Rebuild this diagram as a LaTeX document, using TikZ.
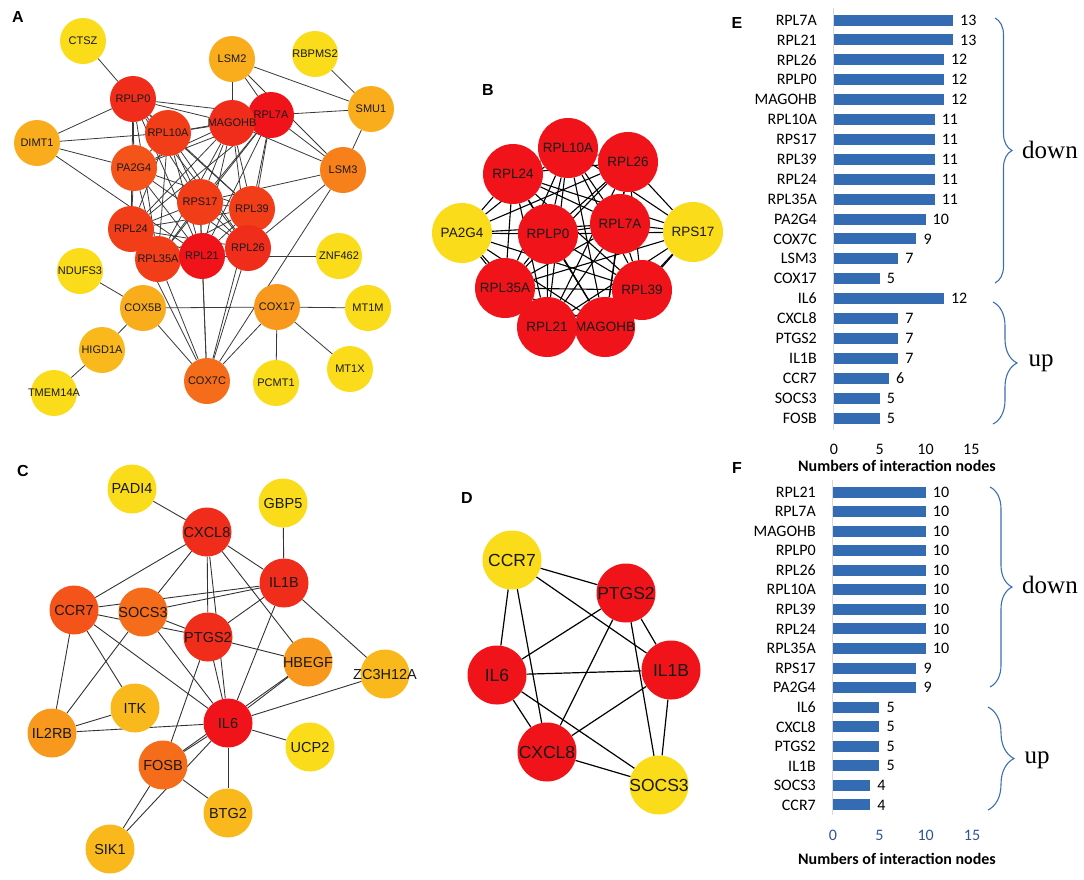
\documentclass[tikz,border=0pt]{standalone}
\usepackage{fontspec}
\setmainfont{Liberation Sans}
\newfontfamily\calfont{Carlito}
\newfontfamily\serfont{Liberation Serif}
\usetikzlibrary{decorations.pathreplacing}
\pgfdeclarelayer{edges}
\pgfsetlayers{edges,main}

\definecolor{rA}{HTML}{F0141A}
\definecolor{rB}{HTML}{F02C1A}
\definecolor{rC}{HTML}{F23E18}
\definecolor{oA}{HTML}{F4541A}
\definecolor{oB}{HTML}{F56C1A}
\definecolor{oC}{HTML}{F7801A}
\definecolor{oD}{HTML}{F8981C}
\definecolor{oE}{HTML}{F9AD1C}
\definecolor{oF}{HTML}{F9B91C}
\definecolor{yA}{HTML}{FADC1A}
\definecolor{barblue}{HTML}{336CB3}
\definecolor{braceblue}{HTML}{3C6EB4}
\definecolor{tickblue}{HTML}{2F5597}

\newcommand{\ribo}{PA2G4,RPS17,RPLP0,RPL10A,MAGOHB,RPL7A,RPL39,RPL24,RPL35A,RPL21,RPL26}
\newcommand{\coreedges}{CCR7/PTGS2,CCR7/IL1B,CCR7/IL6,CCR7/CXCL8,PTGS2/IL6,PTGS2/CXCL8,PTGS2/IL1B,PTGS2/SOCS3,IL6/IL1B,IL6/CXCL8,IL6/SOCS3,IL1B/CXCL8,IL1B/SOCS3,CXCL8/SOCS3}
\newcommand{\ctext}[1]{\makebox[0pt]{#1}}

\tikzset{
  gene/.style={circle,inner sep=0pt,text=black!90},
  anode/.style={gene,minimum size=46pt,font=\fontsize{11}{13}\selectfont},
  bnode/.style={gene,minimum size=60pt,font=\fontsize{13.5}{15}\selectfont},
  cnode/.style={gene,minimum size=49pt,font=\fontsize{14.5}{16}\selectfont},
  dnode/.style={gene,minimum size=59pt,font=\fontsize{17.5}{19}\selectfont},
  aedge/.style={draw=black!78,line width=0.8pt},
  bedge/.style={draw=black,line width=1.1pt},
  cedge/.style={draw=black!80,line width=0.9pt},
  dedge/.style={draw=black,line width=1.2pt},
  panel/.style={font=\fontsize{16}{18}\selectfont\bfseries},
  glab/.style={anchor=east,font=\calfont\fontsize{16}{18}\selectfont,inner sep=1pt},
  vlab/.style={anchor=west,font=\calfont\fontsize{16}{18}\selectfont,inner sep=1pt},
  tlab/.style={font=\calfont\fontsize{16}{18}\selectfont,inner sep=1pt},
  axtitle/.style={font=\calfont\bfseries\fontsize{16}{18}\selectfont},
  gbrace/.style={decorate,decoration={brace,amplitude=#1},draw=braceblue,line width=1.1pt},
  updown/.style={font=\serfont\fontsize{25}{28}\selectfont}
}

\begin{document}
\begin{tikzpicture}[x=1pt,y=-1pt]
\useasboundingbox (0,0) rectangle (1084,879);

% panel letters
\node[panel] (labA) at (18,17) {A};
\node[panel] (labB) at (488,90) {B};
\node[panel] (labC) at (23,471) {C};
\node[panel] (labD) at (467,498) {D};
\node[panel] (labE) at (737,23) {E};
\node[panel] (labF) at (737,468) {F};

% A
\foreach \n/\x/\y/\c in {CTSZ/83/41/yA,LSM2/232/59/oE,RBPMS2/315/54/yA,SMU1/371/109/oE,DIMT1/37/143/oE,
  RPLP0/133/99/rB,RPL7A/271/115/rA,MAGOHB/232/123/rB,RPL10A/168/133/rC,PA2G4/134/168/oA,LSM3/343/170/oC,
  RPS17/200/202/rC,RPL39/252/209/rC,RPL24/131/229/rC,RPL35A/158/259/rC,RPL21/202/256/rA,RPL26/248/248/rB,
  ZNF462/339/256/yA,NDUFS3/80/271/yA,COX5B/143/308/oE,COX17/277/307/oD,MT1M/368/308/yA,HIGD1A/102/350/oF,
  MT1X/350/369/yA,COX7C/207/381/oB,PCMT1/276/383/yA,TMEM14A/54/393/yA}
  \node[anode,fill=\c] (a\n) at (\x,\y) {\ctext{\n}};

\begin{pgfonlayer}{edges}
\foreach \u [count=\i] in \ribo
  \foreach \v [count=\j] in \ribo
    {\ifnum\j>\i \ifnum\i\j=12 \else \draw[aedge] (a\u) -- (a\v);\fi\fi}
\foreach \u/\v in {CTSZ/RPLP0,DIMT1/RPLP0,DIMT1/RPL10A,DIMT1/PA2G4,DIMT1/RPL21,
  LSM2/MAGOHB,LSM2/RPL7A,LSM2/SMU1,LSM2/LSM3,RBPMS2/SMU1,SMU1/RPL7A,SMU1/LSM3,
  LSM3/RPL7A,LSM3/MAGOHB,LSM3/RPS17,LSM3/RPL26,LSM3/COX7C,ZNF462/RPL21,
  NDUFS3/COX5B,COX5B/HIGD1A,HIGD1A/TMEM14A,COX5B/COX17,COX5B/COX7C,
  COX17/MT1M,COX17/MT1X,COX17/PCMT1,COX17/COX7C,
  COX7C/RPL21,COX7C/RPL35A,COX7C/RPL24,COX7C/RPL26,COX7C/RPL39,COX7C/RPS17}
  \draw[aedge] (a\u) -- (a\v);
\end{pgfonlayer}

% B
\foreach \n/\x/\y/\c in {PA2G4/462/233/yA,RPS17/693/232/yA,RPL24/513/174/rA,RPL10A/568/148/rA,
  RPL26/628/162/rA,RPLP0/548/234/rA,RPL7A/620/224/rA,RPL35A/505/288/rA,RPL39/642/290/rA,
  MAGOHB/605/327/rA,RPL21/547/327/rA}
  \node[bnode,fill=\c] (b\n) at (\x,\y) {\ctext{\n}};

\begin{pgfonlayer}{edges}
\foreach \u [count=\i] in \ribo
  \foreach \v [count=\j] in \ribo
    {\ifnum\j>\i \ifnum\i\j=12 \else \draw[bedge] (b\u) -- (b\v);\fi\fi}
\end{pgfonlayer}

% C
\foreach \n/\x/\y/\c in {PADI4/132/489/yA,GBP5/283/503/yA,CXCL8/207/532/rB,IL1B/284/583/rB,
  CCR7/74/610/oA,SOCS3/143/612/oB,PTGS2/208/637/rB,HBEGF/308/662/oD,ZC3H12A/385/674/oF,
  ITK/135/708/oF,IL2RB/52/733/oD,IL6/228/723/rA,UCP2/310/747/yA,FOSB/163/765/oB,
  BTG2/228/813/oF,SIK1/110/849/oF}
  \node[cnode,fill=\c] (c\n) at (\x,\y) {\ctext{\n}};

\begin{pgfonlayer}{edges}
\foreach \u/\v in \coreedges
  \draw[cedge] (c\u) -- (c\v);
\foreach \u/\v in {CXCL8/PADI4,IL1B/GBP5,CXCL8/HBEGF,IL1B/ZC3H12A,PTGS2/HBEGF,IL6/HBEGF,
  FOSB/HBEGF,IL6/ZC3H12A,IL6/UCP2,IL6/BTG2,IL6/IL2RB,IL6/FOSB,SIK1/FOSB,SIK1/IL6,
  FOSB/BTG2,PTGS2/FOSB,ITK/IL2RB,ITK/CCR7,IL2RB/CCR7,IL2RB/SOCS3}
  \draw[cedge] (c\u) -- (c\v);
\end{pgfonlayer}

% D
\foreach \n/\x/\y/\c in {CCR7/512/560/yA,PTGS2/626/593/rA,IL6/497/675/rA,
  IL1B/671/670/rA,CXCL8/547/752/rA,SOCS3/659/785/yA}
  \node[dnode,fill=\c] (d\n) at (\x,\y) {\ctext{\n}};

\begin{pgfonlayer}{edges}
\foreach \u/\v in \coreedges
  \draw[dedge] (d\u) -- (d\v);
\end{pgfonlayer}

% E
\draw[black!15,line width=1pt] (833,8) -- (833,430);
\foreach \g/\v [count=\i from 0] in {RPL7A/13,RPL21/13,RPL26/12,RPLP0/12,MAGOHB/12,RPL10A/11,
  RPS17/11,RPL39/11,RPL24/11,RPL35A/11,PA2G4/10,COX7C/9,LSM3/7,COX17/5,
  IL6/12,CXCL8/7,PTGS2/7,IL1B/7,CCR7/6,SOCS3/5,FOSB/5}
{
  \fill[barblue] (834,{20+19.9*\i-5.5}) rectangle ({834+9.15*\v},{20+19.9*\i+5.5});
  \node[glab] (eg\i) at (818,{20+19.9*\i}) {\g};
  \node[vlab] (ev\i) at ({840+9.15*\v},{20+19.9*\i}) {\v};
}
\foreach \t in {0,5,10,15}
  \node[tlab] (et\t) at ({834+9.15*\t},449) {\t};
\node[axtitle] (etitle) at (897,466) {Numbers of interaction nodes};
\draw[gbrace=17pt] (995,18) -- (995,283);
\draw[gbrace=24pt] (993,302) -- (993,424);
\node[updown] (edown) at (1050,150) {down};
\node[updown] (eup) at (1041,363) {up};

% F
\draw[black!15,line width=1pt] (832,480) -- (832,815);
\foreach \g/\v [count=\i from 0] in {RPL21/10,RPL7A/10,MAGOHB/10,RPLP0/10,RPL26/10,RPL10A/10,
  RPL39/10,RPL24/10,RPL35A/10,RPS17/9,PA2G4/9,IL6/5,CXCL8/5,PTGS2/5,IL1B/5,SOCS3/4,CCR7/4}
{
  \fill[barblue] (833,{492+19.56*\i-5.5}) rectangle ({833+9.27*\v},{492+19.56*\i+5.5});
  \node[glab] (fg\i) at (817,{492+19.56*\i}) {\g};
  \node[vlab] (fv\i) at ({839+9.27*\v},{492+19.56*\i}) {\v};
}
\foreach \t in {0,5,10,15}
  \node[tlab,text=tickblue] (ft\t) at ({833+9.27*\t},835) {\t};
\node[axtitle] (ftitle) at (897,859) {Numbers of interaction nodes};
\draw[gbrace=22pt] (990,487) -- (990,687);
\draw[gbrace=26pt] (988,707) -- (988,810);
\node[updown] (fdown) at (1050,585) {down};
\node[updown] (fup) at (1037,760) {up};
\end{tikzpicture}
\end{document}
